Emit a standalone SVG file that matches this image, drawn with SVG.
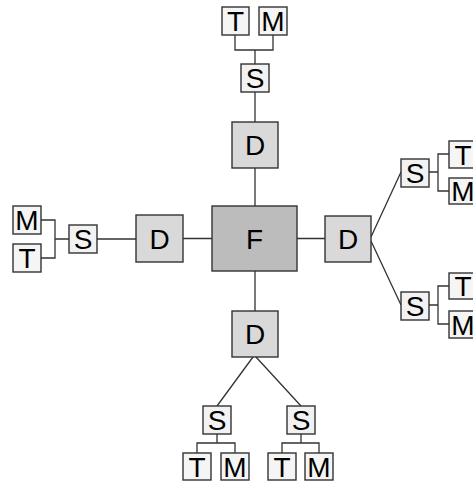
<svg xmlns="http://www.w3.org/2000/svg" width="473" height="483" viewBox="0 0 473 483">
<style>
rect{stroke:#333;stroke-width:1.4}
.f{fill:#bcbcbc}
.d{fill:#d9d9d9}
.s{fill:#f2f2f2}
.t{fill:#f5f5f5}
text{font-family:"Liberation Sans",Arial,sans-serif;font-size:28px;fill:#000;text-anchor:middle}
#connectors path{fill:none;stroke:#333;stroke-width:1.3}
</style>
<rect width="473" height="483" fill="#fff" style="stroke:none"/>
<g id="connectors">
<path d="M255,168V206M183,238.5H212M297,238.5H325M255,271V311"/>
<path d="M255,92V122M235,35V50H273V35M255,50V64"/>
<path d="M41,220H55V258H41M55,239H69M97,239H136"/>
<path d="M371,237L401,172M371,241L401,305"/>
<path d="M429,172H438M449,154H438V191H449"/>
<path d="M429,305H438M449,286H438V324H449"/>
<path d="M253,357L217,406M256,357L301,406"/>
<path d="M217,434V443M197,453V443H235V453M301,434V443M282,453V443H319V453"/>
</g>
<g id="F"><rect class="f" x="212" y="206" width="85" height="65"/><text x="254.5" y="248.5">F</text></g>
<g id="D_top"><rect class="d" x="232" y="122" width="46" height="46"/><text x="255" y="155">D</text></g>
<g id="D_left"><rect class="d" x="136" y="215" width="47" height="47"/><text x="159.5" y="248.5">D</text></g>
<g id="D_right"><rect class="d" x="325" y="216" width="46" height="46"/><text x="348" y="249">D</text></g>
<g id="D_bottom"><rect class="d" x="232" y="311" width="46" height="46"/><text x="255" y="344">D</text></g>
<g id="S_top"><rect class="s" x="241" y="64" width="28" height="28"/><text x="255" y="88">S</text></g>
<g id="T_top"><rect class="t" x="222" y="7" width="27" height="28"/><text x="235.5" y="31">T</text></g>
<g id="M_top"><rect class="t" x="259" y="7" width="28" height="28"/><text x="273" y="31">M</text></g>
<g id="S_left"><rect class="s" x="69" y="225" width="28" height="28"/><text x="83" y="249">S</text></g>
<g id="M_left"><rect class="t" x="13" y="206" width="28" height="28"/><text x="27" y="230">M</text></g>
<g id="T_left"><rect class="t" x="13" y="244" width="28" height="28"/><text x="27" y="268">T</text></g>
<g id="S_right1"><rect class="s" x="401" y="159" width="28" height="28"/><text x="415" y="183">S</text></g>
<g id="T_right1"><rect class="t" x="449" y="141" width="28" height="27"/><text x="463" y="164.5">T</text></g>
<g id="M_right1"><rect class="t" x="449" y="178" width="28" height="26"/><text x="463" y="201">M</text></g>
<g id="S_right2"><rect class="s" x="401" y="292" width="28" height="28"/><text x="415" y="316">S</text></g>
<g id="T_right2"><rect class="t" x="449" y="273" width="28" height="26"/><text x="463" y="296">T</text></g>
<g id="M_right2"><rect class="t" x="449" y="311" width="28" height="27"/><text x="463" y="334.5">M</text></g>
<g id="S_bottom1"><rect class="s" x="203" y="406" width="28" height="28"/><text x="217" y="430">S</text></g>
<g id="S_bottom2"><rect class="s" x="287" y="406" width="28" height="28"/><text x="301" y="430">S</text></g>
<g id="T_bottom1"><rect class="t" x="183" y="453" width="28" height="27"/><text x="197" y="476.5">T</text></g>
<g id="M_bottom1"><rect class="t" x="221" y="453" width="28" height="27"/><text x="235" y="476.5">M</text></g>
<g id="T_bottom2"><rect class="t" x="268" y="453" width="28" height="27"/><text x="282" y="476.5">T</text></g>
<g id="M_bottom2"><rect class="t" x="305" y="453" width="28" height="27"/><text x="319" y="476.5">M</text></g>
</svg>
